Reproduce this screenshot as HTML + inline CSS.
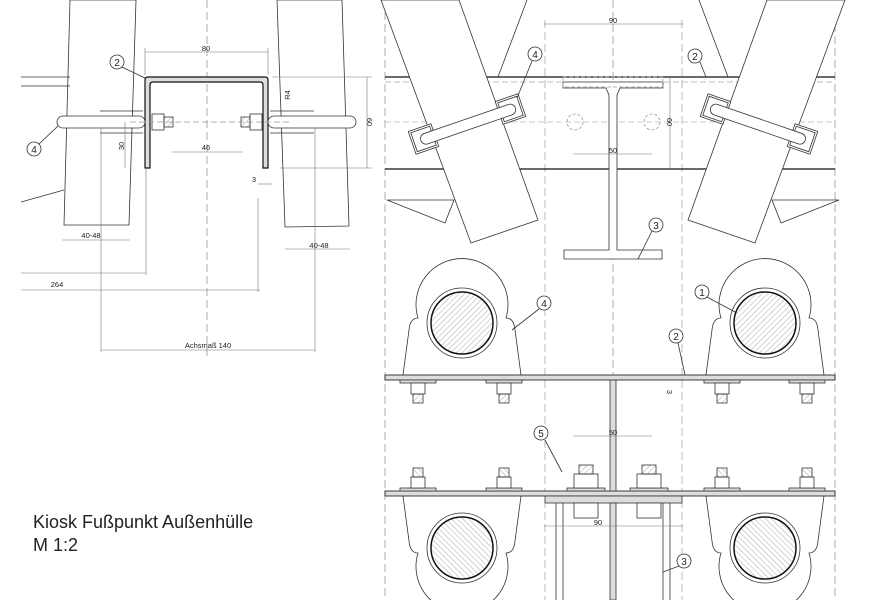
<!DOCTYPE html>
<html><head><meta charset="utf-8"><style>
html,body{margin:0;padding:0;background:#fff;width:875px;height:600px;overflow:hidden}
svg{display:block}
text{font-family:"Liberation Sans",sans-serif;fill:#222}
</style></head><body>
<svg width="875" height="600" viewBox="0 0 875 600" xmlns="http://www.w3.org/2000/svg">
<defs>
<pattern id="h" width="4" height="4" patternUnits="userSpaceOnUse" patternTransform="rotate(45)">
<line x1="0" y1="0" x2="0" y2="4" stroke="#aaa" stroke-width="1"/></pattern>
</defs>
<g fill="none" stroke="#333" stroke-width="0.8">
<!-- LEFT PANEL -->
<polygon points="70,0 136,0 129,225 64,225" fill="#fff"/>
<polygon points="277,0 342,0 349,226 285,227" fill="#fff"/>
<line x1="21" y1="77" x2="70" y2="77"/><line x1="21" y1="86" x2="70" y2="86"/>
<line x1="21" y1="202" x2="64" y2="190"/>
<line x1="207" y1="0" x2="207" y2="360" stroke="#999" stroke-dasharray="8,4"/>
<path d="M145,168 V80 Q145,77 148,77 H265 Q268,77 268,80 V168 H263 V85 Q263,82 260,82 H153 Q150,82 150,85 V168 Z" fill="#ddd" stroke="#111" stroke-width="1.2"/>
<rect x="57" y="116" width="88" height="12" rx="6" fill="#fff"/>
<rect x="268" y="116" width="88" height="12" rx="6" fill="#fff"/>
<line x1="100" y1="111" x2="143" y2="111"/><line x1="100" y1="133" x2="143" y2="133"/>
<line x1="270" y1="111" x2="314" y2="111"/><line x1="270" y1="133" x2="314" y2="133"/>
<rect x="152" y="114" width="12" height="16"/><rect x="164" y="117" width="9" height="10" fill="url(#h)"/>
<rect x="250" y="114" width="12" height="16"/><rect x="241" y="117" width="9" height="10" fill="url(#h)"/>
<line x1="130" y1="122" x2="290" y2="122" stroke="#999" stroke-dasharray="6,3"/>
<g stroke="#777" stroke-width="0.6">
<line x1="145" y1="52" x2="268" y2="52"/><line x1="145" y1="48" x2="145" y2="75"/><line x1="268" y1="48" x2="268" y2="75"/>
<line x1="172" y1="152" x2="243" y2="152"/>
<line x1="125" y1="122" x2="125" y2="168"/>
<line x1="272" y1="77" x2="372" y2="77"/><line x1="280" y1="168" x2="372" y2="168"/><line x1="367" y1="77" x2="367" y2="168"/>
<line x1="62" y1="240" x2="130" y2="240"/><line x1="285" y1="249" x2="350" y2="249"/>
<line x1="21" y1="273" x2="146" y2="273"/><line x1="146" y1="168" x2="146" y2="275"/>
<line x1="21" y1="290" x2="260" y2="290"/><line x1="258" y1="198" x2="258" y2="292"/>
<line x1="101" y1="350" x2="315" y2="350"/><line x1="101" y1="128" x2="101" y2="352"/><line x1="315" y1="128" x2="315" y2="352"/>
<line x1="258" y1="184" x2="272" y2="184"/>
</g>
<circle cx="117" cy="62" r="7" fill="#fff"/><line x1="122" y1="67" x2="145" y2="78"/>
<circle cx="34" cy="149" r="7" fill="#fff"/><line x1="39" y1="144" x2="58" y2="126"/>

<!-- RIGHT TOP PANEL -->
<line x1="385" y1="0" x2="385" y2="600" stroke="#999" stroke-dasharray="8,4"/>
<line x1="835" y1="0" x2="835" y2="600" stroke="#999" stroke-dasharray="8,4"/>
<line x1="613" y1="0" x2="613" y2="600" stroke="#999" stroke-dasharray="8,4"/>
<line x1="545" y1="20" x2="545" y2="600" stroke="#aaa" stroke-dasharray="8,4"/>
<line x1="682" y1="20" x2="682" y2="600" stroke="#aaa" stroke-dasharray="8,4"/>
<line x1="385" y1="82" x2="835" y2="82" stroke="#aaa" stroke-dasharray="6,3"/>
<line x1="385" y1="122" x2="835" y2="122" stroke="#bbb" stroke-dasharray="6,3"/>
<line x1="385" y1="77" x2="835" y2="77" stroke="#111" stroke-width="1.2"/>
<line x1="385" y1="169" x2="835" y2="169" stroke="#111" stroke-width="1.2"/>
<g id="lp">
<polygon points="387,200 445,223 454,200" fill="#fff"/>
<line x1="498" y1="77" x2="527" y2="0"/>
<polygon points="381,0 459,0 538,220 471,243" fill="#fff"/>
<g transform="rotate(-19 467 124)">
<rect x="409" y="112" width="24" height="24" fill="#fff"/>
<rect x="411" y="114" width="20" height="20"/>
<rect x="501" y="112" width="24" height="24" fill="#fff"/>
<rect x="503" y="114" width="20" height="20"/>
<rect x="418" y="119" width="100" height="11" rx="5.5" fill="#fff"/>
</g>
</g>
<use href="#lp" transform="matrix(-1 0 0 1 1226 0)"/>
<polygon points="563,82 663,82 663,88 620,88 617,95 617,250 662,250 662,259 564,259 564,250 609,250 609,95 606,88 563,88" fill="#fff"/>
<rect x="563" y="77" width="100" height="10" fill="none" stroke="#999" stroke-dasharray="4,2"/>
<circle cx="575" cy="122" r="8" stroke="#999" stroke-dasharray="3,2"/>
<circle cx="652" cy="122" r="8" stroke="#999" stroke-dasharray="3,2"/>
<g stroke="#777" stroke-width="0.6">
<line x1="544" y1="24" x2="683" y2="24"/><line x1="573" y1="154" x2="652" y2="154"/>
<line x1="670" y1="77" x2="670" y2="169"/>
</g>
<circle cx="535" cy="54" r="7" fill="#fff"/><line x1="532" y1="61" x2="517" y2="98"/>
<circle cx="695" cy="56" r="7" fill="#fff"/><line x1="700" y1="62" x2="706" y2="77"/>
<circle cx="656" cy="225" r="7" fill="#fff"/><line x1="652" y1="231" x2="638" y2="259"/>

<!-- RIGHT BOTTOM PANEL -->
<g id="clampT">
<path d="M403,375 L409,330 Q410,318 418,318 A46,46 0 1 1 506,318 Q514,318 515,330 L521,375" fill="#fff"/>
<circle cx="462" cy="323" r="35" fill="#fff"/>
<circle cx="462" cy="323" r="31" fill="url(#h)" stroke="#111" stroke-width="1.5"/>
</g>
<use href="#clampT" transform="translate(303 0)"/>
<use href="#clampT" transform="matrix(1 0 0 -1 0 871)"/>
<use href="#clampT" transform="matrix(1 0 0 -1 303 871)"/>
<rect x="385" y="375" width="450" height="5" fill="#ddd" stroke="#111"/>
<rect x="385" y="491" width="450" height="5" fill="#ddd" stroke="#111"/>
<rect x="545" y="496" width="137" height="7" fill="#ddd"/>
<rect x="610" y="380" width="6" height="111" fill="#ddd"/>
<rect x="610" y="503" width="6" height="97" fill="#ddd"/>
<line x1="556" y1="503" x2="556" y2="600"/><line x1="563" y1="503" x2="563" y2="600"/>
<line x1="663" y1="503" x2="663" y2="600"/><line x1="670" y1="503" x2="670" y2="600"/>
<g id="bt"><rect x="400" y="380" width="36" height="3" fill="#ddd"/><rect x="411" y="383" width="14" height="11" fill="#fff"/><rect x="413" y="394" width="10" height="9" fill="url(#h)"/></g>
<use href="#bt" transform="translate(86 0)"/><use href="#bt" transform="translate(304 0)"/><use href="#bt" transform="translate(389 0)"/>
<use href="#bt" transform="matrix(1 0 0 -1 0 871)"/><use href="#bt" transform="matrix(1 0 0 -1 86 871)"/><use href="#bt" transform="matrix(1 0 0 -1 304 871)"/><use href="#bt" transform="matrix(1 0 0 -1 389 871)"/>
<g id="bm"><rect x="567" y="488" width="38" height="3" fill="#ddd"/><rect x="574" y="474" width="24" height="14" fill="#fff"/><rect x="579" y="465" width="14" height="9" fill="url(#h)"/><rect x="574" y="503" width="24" height="15" fill="#fff"/></g>
<use href="#bm" transform="translate(63 0)"/>
<g stroke="#777" stroke-width="0.6"><line x1="573" y1="436" x2="652" y2="436"/><line x1="544" y1="526" x2="683" y2="526"/></g>
<circle cx="544" cy="303" r="7" fill="#fff"/><line x1="539" y1="309" x2="512" y2="330"/>
<circle cx="702" cy="292" r="7" fill="#fff"/><line x1="707" y1="297" x2="735" y2="312"/>
<circle cx="676" cy="336" r="7" fill="#fff"/><line x1="678" y1="343" x2="685" y2="375"/>
<circle cx="541" cy="433" r="7" fill="#fff"/><line x1="545" y1="440" x2="562" y2="472"/>
<circle cx="684" cy="561" r="7" fill="#fff"/><line x1="679" y1="566" x2="663" y2="572"/>
</g>
<g font-size="10" text-anchor="middle">
<text x="117" y="66">2</text><text x="34" y="153">4</text>
<text x="535" y="58">4</text><text x="695" y="60">2</text><text x="656" y="229">3</text>
<text x="544" y="307">4</text><text x="702" y="296">1</text><text x="676" y="340">2</text>
<text x="541" y="437">5</text><text x="684" y="565">3</text>
</g>
<g font-size="7.5" text-anchor="middle" fill="#333">
<text x="206" y="51">80</text><text x="206" y="150">46</text><text x="91" y="238">40-48</text>
<text x="319" y="248">40-48</text><text x="57" y="287">264</text><text x="208" y="348">Achsmaß 140</text>
<text x="254" y="182">3</text><text x="613" y="23">90</text><text x="613" y="153">50</text>
<text x="613" y="435">50</text><text x="598" y="525">90</text>
<text transform="translate(124 146) rotate(-90)">30</text>
<text transform="translate(290 95) rotate(-90)">R4</text>
<text transform="translate(367 122) rotate(90)">60</text>
<text transform="translate(667 122) rotate(90)">60</text>
<text transform="translate(667 392) rotate(90)">3</text>
</g>
<text x="33" y="528" font-size="18">Kiosk Fußpunkt Außenhülle</text>
<text x="33" y="551" font-size="18">M 1:2</text>
</svg>
</body></html>
